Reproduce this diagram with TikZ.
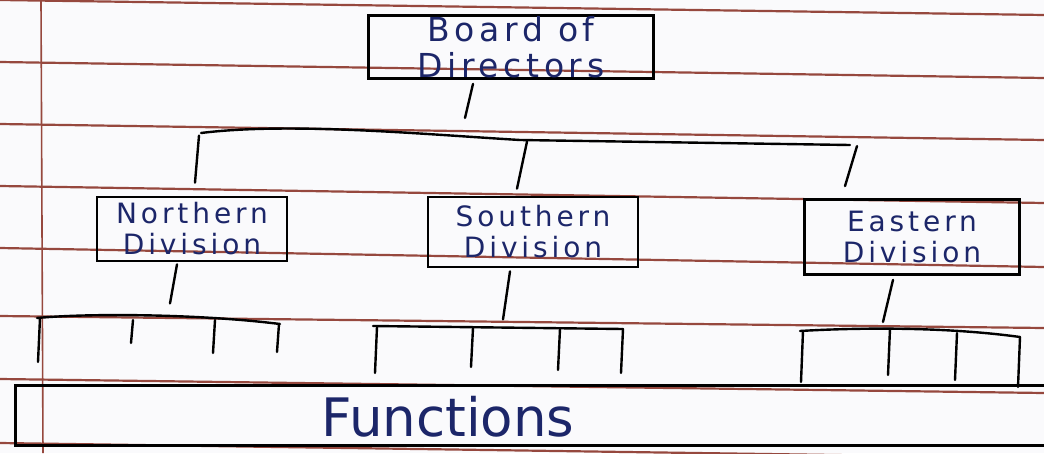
\documentclass[tikz,border=0pt]{standalone}
\usepackage{fontspec}
\setmainfont{DejaVu Sans}
\usetikzlibrary{positioning,calc}
\definecolor{InkBlue}{RGB}{28, 38, 105}
\definecolor{RuleRed}{RGB}{150, 72, 62}
\definecolor{PaperWhite}{RGB}{250, 250, 252}
\newcommand{\handfont}[2]{\fontsize{#1}{#2}\selectfont\addfontfeature{LetterSpace=14}}

\begin{document}
\begin{tikzpicture}[x=1pt, y=-1pt,
  box/.style={draw, line width=2.8pt, inner sep=0pt, text=InkBlue, align=center},
  link/.style={line width=2.4pt, line cap=round},
  rule/.style={RuleRed, line width=2.2pt}]
  % Paper
  \fill[PaperWhite] (0,0) rectangle (1044,453);
  \useasboundingbox (0,0) rectangle (1044,453);
  \foreach \l/\r in {0/15, 62/78, 124/140, 186/203, 248/267, 316/328, 379/393, 443/458}
    \draw[rule] (0,\l) -- (1044,\r);
  \draw[RuleRed, line width=1.6pt] (41,0) -- (43,453);

  % Boxes
  \node[box, minimum width=285pt, minimum height=63pt, font={\handfont{33}{36}}] (board) at (511,47) {Board of\\Directors};
  \node[box, minimum width=190pt, minimum height=64pt, font={\handfont{28}{31}}] (north) at (192,229) {Northern\\Division};
  \node[box, minimum width=210pt, minimum height=70pt, font={\handfont{28}{31}}] (south) at (533,232) {Southern\\Division};
  \node[box, minimum width=215pt, minimum height=75pt, font={\handfont{28}{31}}] (east) at (912,237) {Eastern\\Division};
  \node[box, minimum width=1050pt, minimum height=60pt, anchor=north west] (functions) at (14,384) {};
  \node[text=InkBlue, font={\fontsize{53}{53}\selectfont}] (funclabel) at (448,417) {Functions};

  % Board to the main bar
  \draw[link] ($(board.south)+(-38,4)$) -- ($(board.south)+(-46,38)$);
  \coordinate (barW) at (201,133);
  \coordinate (barE) at (850,145);
  \draw[link] (barW) .. controls (290,122) and (420,134) .. (520,140) -- (barE);

  % Drops to the divisions
  \foreach \n/\xa/\ya/\xb/\yb in {north/7/-60/3/-13, south/-6/-54/-16/-7, east/-55/-52/-67/-12}
    \draw[link] ($(\n.north)+(\xa,\ya)$) -- ($(\n.north)+(\xb,\yb)$);

  % Divisions to their bars
  \foreach \n/\xa/\ya/\xb/\yb in {north/-15/2/-22/41, south/-23/3/-30/51, east/-19/4/-29/46}
    \draw[link] ($(\n.south)+(\xa,\ya)$) -- ($(\n.south)+(\xb,\yb)$);

  % Function bars
  \draw[link] (37,318) .. controls (90,313) and (200,314) .. (280,324);
  \draw[link] (373,326) -- (623,329);
  \draw[link] (800,331) .. controls (850,328) and (940,326) .. (1020,337);
  \foreach \x/\a/\b in {40/318/362, 133/320/343, 215/320/353, 279/324/352,
                        377/327/373, 473/328/367, 560/329/370, 623/329/373,
                        803/331/382, 890/329/375, 957/333/380, 1020/337/387}
    \draw[link] (\x,\a) -- (\x-2,\b);
\end{tikzpicture}
\end{document}
